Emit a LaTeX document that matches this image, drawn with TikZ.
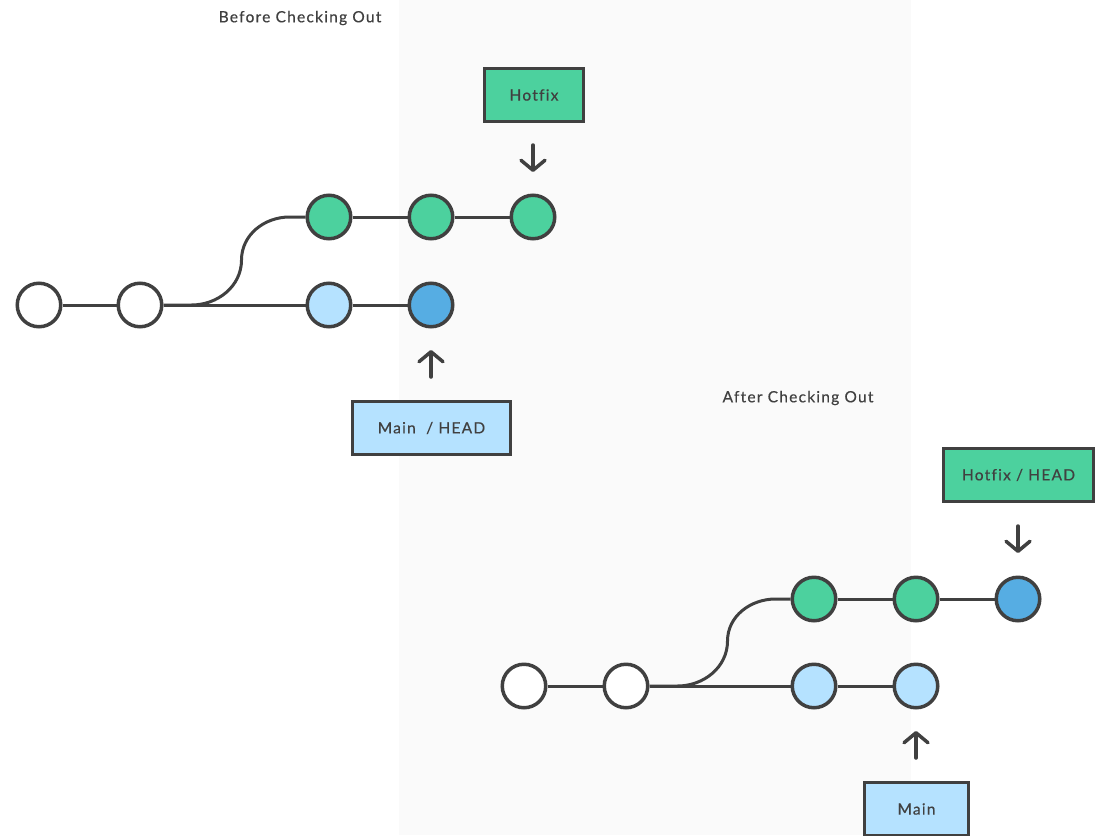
\documentclass[tikz,border=0pt]{standalone}
\usepackage{fontspec}
\setmainfont{Lato}[LetterSpace=8,Ligatures=NoCommon,FakeBold=0.4]
\usetikzlibrary{arrows.meta}
\definecolor{ink}{HTML}{404040}
\definecolor{gitgreen}{HTML}{4CD19E}
\definecolor{lightblue}{HTML}{B5E2FF}
\definecolor{darkblue}{HTML}{56ADE3}
\definecolor{bggray}{HTML}{FAFAFA}
\definecolor{txt}{HTML}{404040}
\begin{document}
\begin{tikzpicture}[x=1pt,y=-1pt,
  commit/.style={circle,draw=ink,line width=3.5pt,minimum size=43.5pt,inner sep=0pt},
  whitec/.style={commit,fill=white},
  greenc/.style={commit,fill=gitgreen},
  lbluec/.style={commit,fill=lightblue},
  dbluec/.style={commit,fill=darkblue},
  link/.style={draw=ink,line width=3pt},
  pointer/.style={draw=ink,line width=3.5pt,line cap=round,-{Straight Barb[length=10pt,width=24pt,line cap=round,line join=round]}},
  label/.style={draw=ink,line width=3.5pt,minimum height=53pt,inner sep=0pt,font=\fontsize{15.5}{17}\selectfont,text=txt},
  title/.style={font=\fontsize{15.5}{17}\selectfont,text=txt}
]
\clip (0,0) rectangle (1099,835);
\fill[white] (0,0) rectangle (1099,835);
\fill[bggray] (399,0) rectangle (911,835);

% ---------- Before ----------
\node[title] (tbefore) at (300,18) {Before Checking Out};
\node[whitec] (b1) at (39,305) {};
\node[whitec] (b2) at (140,305) {};
\node[lbluec] (b3) at (329,305) {};
\node[dbluec] (b4) at (431,305) {};
\node[greenc] (t1) at (329,217) {};
\node[greenc] (t2) at (431,217) {};
\node[greenc] (t3) at (533,217) {};
\draw[link] (b1) -- (b2);
\draw[link] (b2) -- (b3);
\draw[link] (b3) -- (b4);
\draw[link] (t1) -- (t2);
\draw[link] (t2) -- (t3);
\draw[link] (b2.east) -- ++(28,0) to[out=0,in=-90] ++(50,-45) to[out=90,in=180] ++(48,-43) -- (t1.west);

\node[label,fill=gitgreen,minimum width=99pt] (hotfix) at (534,95) {Hotfix};
\coordinate (ha1) at (533,145);
\coordinate (ha2) at (533,172);
\draw[pointer] (ha1) -- (ha2);

\node[label,fill=lightblue,minimum width=158pt] (mainhead) at (431.5,428) {Main\ \ / HEAD};
\coordinate (ma1) at (431,377);
\coordinate (ma2) at (431,350);
\draw[pointer] (ma1) -- (ma2);

% ---------- After ----------
\node[title] (tafter) at (798,398) {After Checking Out};
\node[whitec] (a1) at (524,686) {};
\node[whitec] (a2) at (626,686) {};
\node[lbluec] (a3) at (814,686) {};
\node[lbluec] (a4) at (916,686) {};
\node[greenc] (u1) at (814,599) {};
\node[greenc] (u2) at (916,599) {};
\node[dbluec] (u3) at (1018,599) {};
\draw[link] (a1) -- (a2);
\draw[link] (a2) -- (a3);
\draw[link] (a3) -- (a4);
\draw[link] (u1) -- (u2);
\draw[link] (u2) -- (u3);
\draw[link] (a2.east) -- ++(28,0) to[out=0,in=-90] ++(50,-45) to[out=90,in=180] ++(48,-42) -- (u1.west);

\node[label,fill=gitgreen,minimum width=150pt] (hotfixhead) at (1018.5,475) {Hotfix / HEAD};
\coordinate (hb1) at (1018,526);
\coordinate (hb2) at (1018,553);
\draw[pointer] (hb1) -- (hb2);

\node[label,fill=lightblue,minimum width=104pt] (mainb) at (916.5,809) {Main};
\coordinate (mb1) at (916,758);
\coordinate (mb2) at (916,731);
\draw[pointer] (mb1) -- (mb2);
\end{tikzpicture}
\end{document}
